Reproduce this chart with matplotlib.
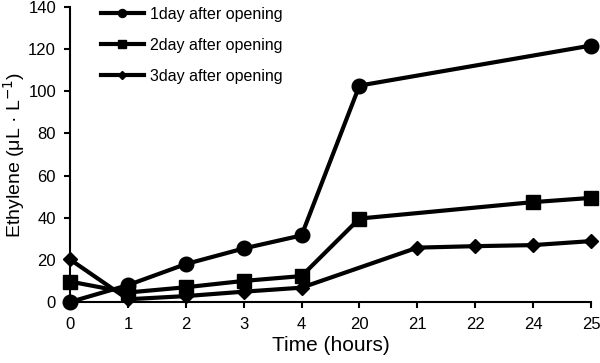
import matplotlib
matplotlib.use("Agg")
import matplotlib.pyplot as plt
import numpy as np

plt.rcParams["font.family"] = ["Liberation Sans", "DejaVu Sans"]

# categorias del eje x (espaciado uniforme)
horas = ["0", "1", "2", "3", "4", "20", "21", "22", "24", "25"]

# serie 1: sin datos en 21, 22, 24
idx_1d = [0, 1, 2, 3, 4, 5, 9]
etileno_1d = [0, 8, 18, 25.4, 31.6, 102.7, 121.7]

# serie 2: sin datos en 21, 22
idx_2d = [0, 1, 2, 3, 4, 5, 8, 9]
etileno_2d = [9.7, 4.5, 7.0, 10.0, 12.3, 39.6, 47.4, 49.4]

# serie 3: sin dato en 20
idx_3d = [0, 1, 2, 3, 4, 6, 7, 8, 9]
etileno_3d = [20.2, 1.3, 2.8, 4.9, 6.8, 25.8, 26.5, 27.0, 28.9]

fig = plt.figure(figsize=(6.0, 3.63), dpi=100)
ax = fig.add_axes([70 / 600, 1 - 302 / 363, 521 / 600, 295 / 363])

ax.plot(idx_1d, etileno_1d, "-o", color="black", lw=3, markersize=10.5, label="1day after opening", clip_on=False)
ax.plot(idx_2d, etileno_2d, "-s", color="black", lw=3, markersize=9.5, label="2day after opening", clip_on=False)
ax.plot(idx_3d, etileno_3d, "-D", color="black", lw=3, markersize=7.5, label="3day after opening", clip_on=False)

ax.set_xlim(0, len(horas) - 1)
ax.set_ylim(0, 140)
ax.set_xticks(np.arange(len(horas)))
ax.set_xticklabels(horas)
ax.set_yticks(np.arange(0, 141, 20))
ax.tick_params(axis="both", labelsize=12, direction="out", length=4, width=1.5)
ax.tick_params(axis="x", pad=7)
ax.tick_params(axis="y", pad=6)
for s in ["top", "right"]:
    ax.spines[s].set_visible(False)
for s in ["left", "bottom"]:
    ax.spines[s].set_linewidth(1.5)

ax.set_xlabel("Time (hours)", fontsize=15, labelpad=3)
ax.set_ylabel("Ethylene (μL · L$^{-1}$)", fontsize=14)
ax.yaxis.set_label_coords(-0.083, 0.5)

ax.legend(loc="upper left", bbox_to_anchor=(0.031, 1.05), frameon=False, fontsize=11.5,
          handlelength=2.7, labelspacing=1.0, handletextpad=0.4, markerscale=0.55)

fig.savefig("out.png", dpi=100)
